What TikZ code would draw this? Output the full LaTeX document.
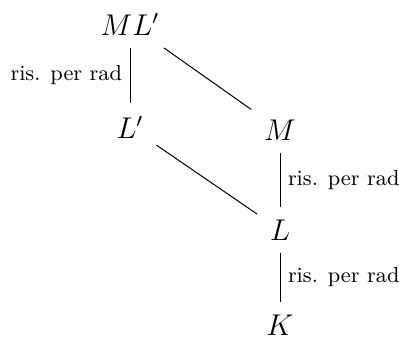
\documentclass[tikz,border=0pt]{standalone}
\begin{document}
\begin{tikzpicture}[x=0.4pt,y=-0.4pt,
  obj/.style={anchor=base,inner sep=5pt,font=\fontsize{12}{14}\selectfont},
  lab/.style={font=\fontsize{8.7}{10.5}\selectfont,inner sep=3pt},
  conn/.style={line width=0.4pt}]
\useasboundingbox (0,0) rectangle (399,340);
\node[obj] (ML) at (130,35) {$ML'$};
\node[obj] (Lp) at (130,138) {$L'$};
\node[obj] (M) at (280,140) {$M$};
\node[obj] (L) at (280,240) {$L$};
\node[obj] (K) at (280,335) {$K$};
\draw[conn] (ML.south -| Lp.north) -- node[lab,left] {ris. per rad} (Lp.north);
\draw[conn] (ML) -- (M);
\draw[conn] (Lp) -- (L);
\draw[conn] (M) -- node[lab,right] {ris. per rad} (L);
\draw[conn] (L) -- node[lab,right] {ris. per rad} (K);
\end{tikzpicture}
\end{document}
